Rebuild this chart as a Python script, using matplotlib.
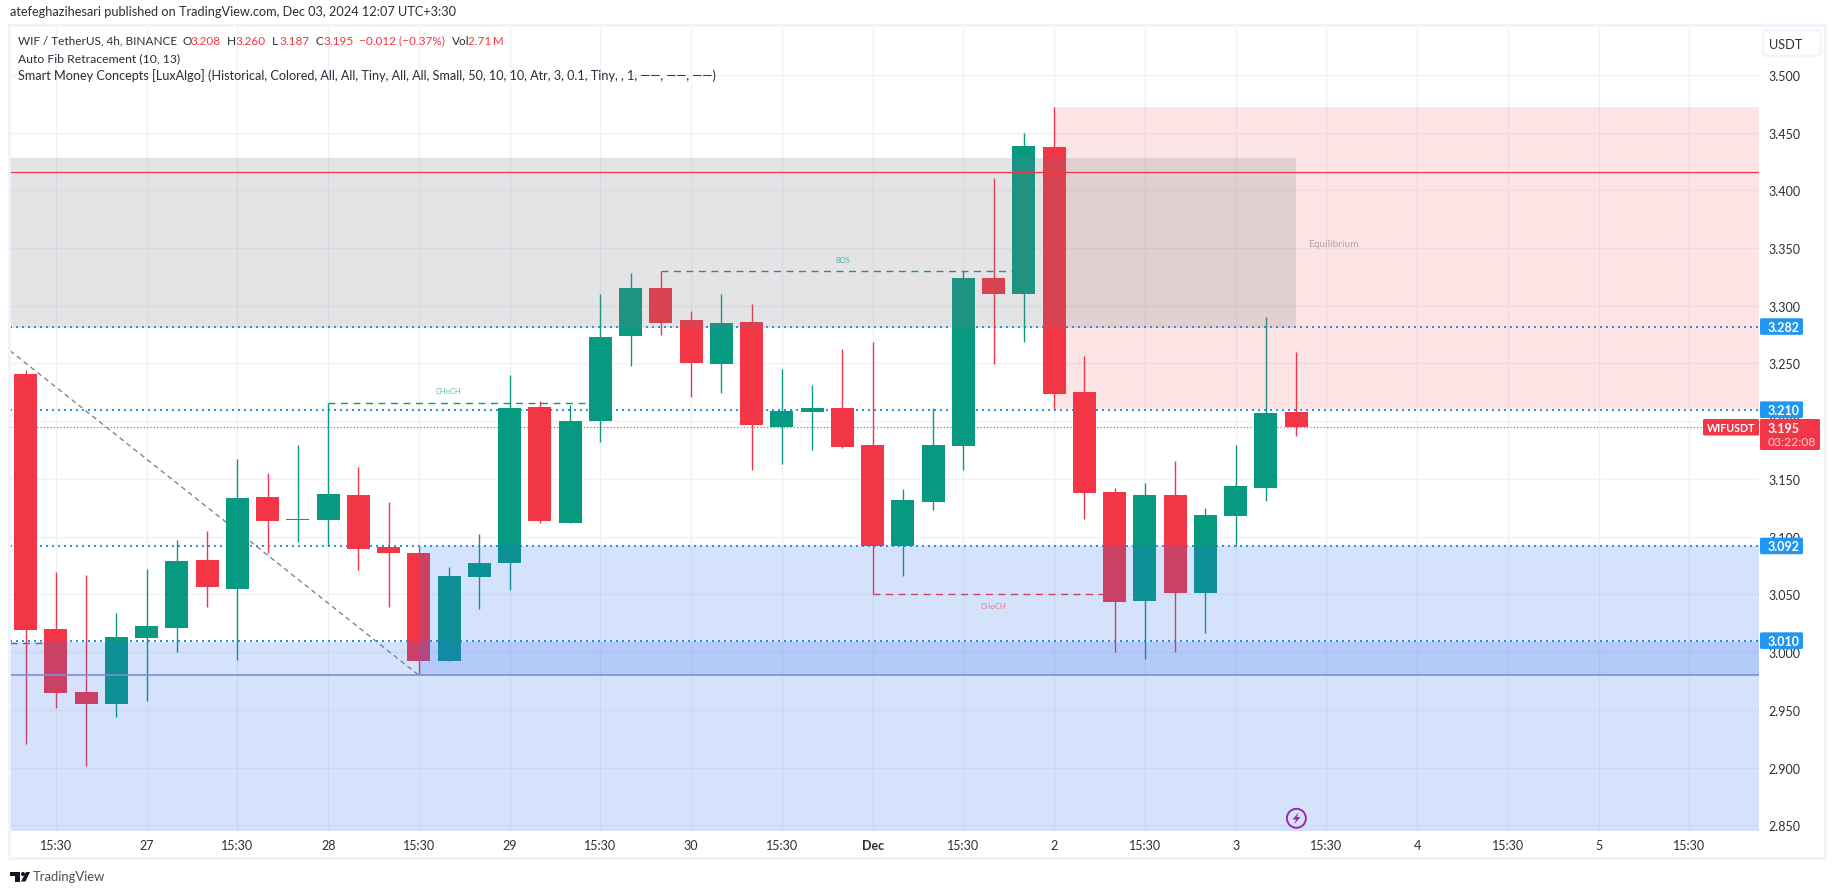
import numpy as np
import matplotlib
matplotlib.use("Agg")
import matplotlib.pyplot as plt
from matplotlib.patches import Rectangle, FancyBboxPatch, Circle, Polygon

W, H = 1835, 895

# candles
opens = [3.2409, 3.0200, 2.9655, 2.9551, 3.0123, 3.0209, 3.0798, 3.0547, 3.1344, 3.1145,
         3.1144, 3.1361, 3.0911, 3.0859, 2.9923, 3.0651, 3.0772, 3.2123, 3.1118, 3.2003,
         3.2739, 3.3154, 3.2877, 3.2496, 3.2860, 3.1951, 3.2080, 3.2115, 3.1795, 3.0920,
         3.1301, 3.1786, 3.3241, 3.3101, 3.4374, 3.2252, 3.1388, 3.0444, 3.1362, 3.0513,
         3.1180, 3.1421, 3.208]
highs = [3.2443, 3.0694, 3.0668, 3.0339, 3.0720, 3.0971, 3.1049, 3.1673, 3.1551, 3.1794,
         3.2155, 3.1603, 3.1300, 3.0922, 3.0737, 3.1023, 3.2400, 3.2175, 3.2140, 3.3102,
         3.3284, 3.3299, 3.2955, 3.3102, 3.3016, 3.2453, 3.2314, 3.2626, 3.2687, 3.1414,
         3.2115, 3.3299, 3.4107, 3.4496, 3.4718, 3.2564, 3.1422, 3.1466, 3.1656, 3.1249,
         3.1793, 3.2902, 3.260]
lows = [2.9205, 2.9516, 2.9014, 2.9438, 2.9577, 3.0001, 3.0391, 2.9932, 3.0859, 3.0954,
        3.0919, 3.0711, 3.0391, 2.9799, 2.9923, 3.0374, 3.0538, 3.1118, 3.1118, 3.1821,
        3.2479, 3.2747, 3.2210, 3.2245, 3.1578, 3.1630, 3.1751, 3.1769, 3.0507, 3.0660,
        3.1232, 3.1578, 3.2496, 3.2685, 3.2105, 3.1154, 2.9998, 2.9941, 2.9998, 3.0166,
        3.0920, 3.1310, 3.187]
closes = [3.0192, 2.9646, 2.9551, 3.0131, 3.0226, 3.0789, 3.0564, 3.1335, 3.1136, 3.1155,
          3.1370, 3.0893, 3.0859, 2.9923, 3.0659, 3.0773, 3.2114, 3.1136, 3.2002, 3.2730,
          3.3154, 3.2851, 3.2505, 3.2851, 3.1968, 3.2089, 3.2115, 3.1777, 3.0920, 3.1318,
          3.1795, 3.3241, 3.3102, 3.4383, 3.2235, 3.1379, 3.0435, 3.1362, 3.0513, 3.1188,
          3.1440, 3.2071, 3.195]

price_ticks = [2.85, 2.90, 2.95, 3.00, 3.05, 3.10, 3.15, 3.20, 3.25, 3.30, 3.35, 3.40, 3.45, 3.50]
time_ticks = list(range(1, 56, 3))
time_labels = ["15:30", "27", "15:30", "28", "15:30", "29", "15:30", "30", "15:30", "Dec",
               "15:30", "2", "15:30", "3", "15:30", "4", "15:30", "5", "15:30"]

fib_levels = [3.282, 3.210, 3.092, 3.010]
last_price = 3.195

# zones: x start, x end, top, bottom
left_edge, right_edge = -0.519, 57.3
bottom_edge, top_edge = 2.8454, 3.5414
gray_zone = (left_edge, 42, 3.4279, 3.2807)
red_zone = (34, right_edge, 3.4718, 3.2105)
blue_zone = (left_edge, right_edge, 3.0087, bottom_edge)
blue_zone2 = (13, right_edge, 3.092, 2.98)
top_line = 3.4155
bottom_line = 2.98

fib_x = [left_edge, 13]
fib_y = [3.2611, 2.98]

green = "#089981"
red = "#F23645"
blue = "#2196F3"
frame = "#F0F3FA"
txt = "#2A2E39"

plt.rcParams["font.family"] = ["Lato", "DejaVu Sans"]

fig = plt.figure(figsize=(W / 100, H / 100), dpi=100, facecolor="white")
ax_l, ax_r, ax_t, ax_b = 10, 1759, 28, 831.7
ax = fig.add_axes([ax_l / W, 1 - ax_b / H, (ax_r - ax_l) / W, (ax_b - ax_t) / H])
ax.set_xlim(left_edge, right_edge)
ax.set_ylim(bottom_edge, top_edge)
for s in ax.spines.values():
    s.set_visible(False)
ax.yaxis.tick_right()
ax.set_yticks(price_ticks)
ax.set_yticklabels(["%.3f" % p for p in price_ticks], fontsize=9, color=txt, ha="left")
ax.set_xticks(time_ticks)
ax.set_xticklabels(time_labels, fontsize=9, color=txt)
ax.get_xticklabels()[9].set_fontweight("bold")
ax.tick_params(axis="both", length=0)
ax.tick_params(axis="y", pad=6.5)
ax.tick_params(axis="x", pad=6)
ax.grid(True, color="#F0F1F4", lw=1, zorder=0)
ax.set_axisbelow(True)

# level lines sit under the candles
for lv in fib_levels:
    ax.plot([left_edge, right_edge], [lv, lv], color=blue, lw=1.44, ls=(0, (1, 2)), zorder=1.5)
ax.plot([left_edge, right_edge], [last_price, last_price], color=red, lw=0.8, ls=(0, (1, 2)), zorder=1.5)
ax.plot(fib_x, fib_y, color="#787B86", lw=0.9, ls=(0, (4, 3)), zorder=1.6)

# structure breaks
dash = (0, (5, 4))
ax.plot([10, 19], [3.2155, 3.2155], color=green, lw=1, ls=dash, zorder=1.7)
ax.plot([21, 33], [3.3299, 3.3299], color=green, lw=1, ls=dash, zorder=1.7)
ax.plot([28, 36], [3.0507, 3.0507], color=red, lw=1, ls=dash, zorder=1.7)
ax.plot([left_edge, 1], [3.008, 3.008], color=red, lw=1, ls=dash, zorder=1.7)

for i in range(len(opens)):
    c = green if closes[i] >= opens[i] else red
    ax.plot([i, i], [lows[i], highs[i]], color=c, lw=1, zorder=2, solid_capstyle="butt")
    b = min(opens[i], closes[i])
    ax.add_patch(Rectangle((i - 0.38, b), 0.76, abs(closes[i] - opens[i]), fc=c, ec="none", zorder=2.1))

def zone(z, col, a):
    ax.add_patch(Rectangle((z[0], z[3]), z[1] - z[0], z[2] - z[3], fc=col, alpha=a, ec="none", zorder=3))

zone(red_zone, red, 0.13)
zone(gray_zone, "#787B86", 0.2)
zone(blue_zone, "#2D6FF0", 0.195)
zone(blue_zone2, "#2D6FF0", 0.195)
ax.plot([left_edge, right_edge], [top_line, top_line], color=red, lw=0.9, zorder=3.2)
ax.plot([left_edge, right_edge], [bottom_line, bottom_line], color="#7D91CD", lw=1.2, zorder=3.2)

ax.text(13.96, 3.2265, "CHoCH", color=green, alpha=0.65, fontsize=5.4, ha="center", va="center", zorder=4)
ax.text(27, 3.3400, "BOS", color=green, alpha=0.65, fontsize=5.4, ha="center", va="center", zorder=4)
ax.text(32, 3.0405, "CHoCH", color=red, alpha=0.65, fontsize=5.4, ha="center", va="center", zorder=4)
ax.text(43.25, 3.3535, "Equilibrium", color="#787B86", alpha=0.6, fontsize=7.4, ha="center", va="center", zorder=4)

# everything around the plot, in pixels
ov = fig.add_axes([0, 0, 1, 1], facecolor="none")
ov.set_xlim(0, W)
ov.set_ylim(H, 0)
ov.axis("off")

def y_of(p):
    return ax_t + (top_edge - p) / (top_edge - bottom_edge) * (ax_b - ax_t)

ov.add_patch(Rectangle((9, 26), 1816, 833, fc="none", ec=frame, lw=2))

def badge(x0, x1, y0, y1, col):
    ov.add_patch(FancyBboxPatch((x0 + 1, y0 + 1), x1 - x0 - 2, y1 - y0 - 2,
                                boxstyle="round,pad=1,rounding_size=1.5", fc=col, ec="none"))

for lv in fib_levels:
    yy = y_of(lv)
    badge(1760, 1803, yy - 8.3, yy + 8.3, blue)
    ov.text(1768, yy, "%.3f" % lv, color="white", fontsize=9, fontweight="bold", va="center", ha="left")

ly = y_of(last_price)
badge(1760, 1820, ly - 8, ly + 23, red)
ov.text(1768, ly + 0.5, "%.3f" % last_price, color="white", fontsize=9, fontweight="bold", va="center")
ov.text(1768, ly + 14.5, "03:22:08", color="#FFD0D5", fontsize=8.7, va="center")
badge(1703, 1759, ly - 8, ly + 8.5, red)
ov.text(1731, ly + 0.3, "WIFUSDT", color="white", fontsize=7.7, fontweight="bold", va="center", ha="center")

ov.text(10, 12, "atefeghazihesari published on TradingView.com, Dec 03, 2024 12:07 UTC+3:30",
        color=txt, fontsize=9.2, va="center")

# legend header
for x, s, c in [(18, "WIF / TetherUS, 4h, BINANCE", txt), (182, "O", txt), (190, "3.208", red),
                (227, "H", txt), (235, "3.260", red), (272, "L", txt), (279, "3.187", red),
                (315, "C", txt), (323, "3.195", red), (359, "\u22120.012 (\u22120.37%)", red),
                (451.5, "Vol", txt), (468, "2.71\u2009M", red)]:
    ov.text(x, 41, s, color=c, fontsize=8.5, va="center")
ov.text(18, 59, "Auto Fib Retracement (10, 13)", color=txt, fontsize=8.85, va="center")
ov.text(18, 76, "Smart Money Concepts [LuxAlgo] (Historical, Colored, All, All, Tiny, All, All, Small, "
        "50, 10, 10, Atr, 3, 0.1, Tiny, , 1, \u2014\u2014, \u2014\u2014, \u2014\u2014)", color=txt, fontsize=9.05, va="center")

# currency button
ov.add_patch(FancyBboxPatch((1763, 31.5), 57.5, 25.5, boxstyle="round,pad=0,rounding_size=4", fc="white", ec=frame, lw=1.5))
ov.text(1785.7, 44.5, "USDT", color=txt, fontsize=9.2, ha="center", va="center")

# bolt marker
ov.add_patch(Circle((1296.4, 819.3), 9.5, fc="none", ec="#9C27B0", lw=1.4))
ov.add_patch(Polygon([(1298.5, 813.5), (1292.5, 820.5), (1296, 820.5), (1294.5, 825), (1300.5, 818), (1297, 818)],
                     fc="#9C27B0", ec="none"))

# logo
ov.add_patch(Polygon([(10, 873), (20, 873), (20, 882.5), (15, 882.5), (15, 877), (10, 877)], fc="#131722", ec="none"))
ov.add_patch(Circle((23, 875), 2, fc="#131722", ec="none"))
ov.add_patch(Polygon([(21, 882.5), (26, 873), (30, 873), (25.5, 882.5)], fc="#131722", ec="none"))
ov.text(33, 877.5, "TradingView", color="#4A4E59", fontsize=9.4, va="center")

fig.savefig("out.png", dpi=100, facecolor="white")
